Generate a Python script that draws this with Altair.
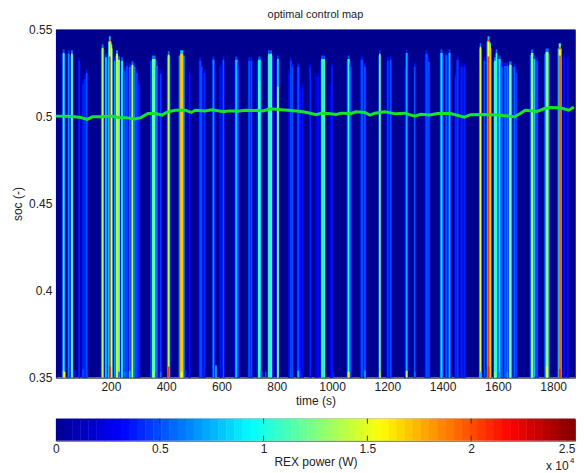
import altair as alt
import pandas as pd

FONT = "Liberation Sans"
# spikes of the control map: time (s), top soc, body power (W), tip power (W), width (s)
spike_t = [29,47,59,85,99,105,112,170,182,196,202,214,222,229,240,250,258,268,278,286,294,301,355,366,380,409,456,485,523,528,538,571,596,607,654,661,700,708,737,772,779,804,845,851,856,878,885,894,921,942,949,964,971,995,1000,1060,1067,1108,1119,1173,1202,1212,1266,1270,1299,1342,1350,1396,1413,1425,1447,1454,1469,1479,1537,1551,1566,1572,1590,1595,1606,1615,1626,1634,1645,1660,1667,1724,1732,1742,1778,1824,1839,1853]
spike_top = [.5385,.538,.538,.534,.5208,.5236,.527,.5414,.536,.546,.5414,.534,.538,.5345,.534,.528,.531,.5305,.5317,.5305,.527,.5208,.535,.531,.5265,.5375,.538,.527,.534,.5305,.527,.5345,.5305,.5345,.5345,.531,.534,.534,.5345,.538,.538,.535,.527,.534,.5305,.5305,.517,.519,.5305,.525,.525,.535,.535,.519,.5305,.535,.5305,.5345,.5305,.538,.534,.5345,.5305,.5385,.5305,.538,.5334,.5385,.5374,.5385,.525,.5345,.5305,.5305,.542,.534,.546,.542,.534,.5385,.535,.5305,.531,.531,.5317,.5305,.527,.5385,.535,.534,.539,.542,.536,.536]
spike_val = [10500,6500,12000,4000,4000,4000,5000,14000,9000,20500,15500,7000,15000,12500,10000,5000,5000,6000,14000,6000,5000,4000,11500,6000,4500,14000,17000,3500,5000,5000,4000,7000,3500,5500,8000,4000,5000,5000,9500,11000,10500,8500,3500,5000,5000,5000,3500,3500,4000,3000,3500,10500,11000,3000,4000,10000,5000,5000,5000,13500,4500,5000,3500,7500,5000,5000,5000,9000,5500,8000,4000,4500,4000,4000,15000,5000,20500,17000,11000,10500,9000,5000,5500,6000,12500,5500,4500,13000,8000,5000,12500,19500,3500,3500]
spike_tip = [5000,4000,6000,3000,3000,3000,3500,6000,4500,8000,12000,4000,7000,6000,5000,3500,3500,4000,6000,4000,3500,3000,6000,4000,3000,6000,8000,2500,3500,3500,3000,4000,2500,3500,4500,3000,3500,3500,5000,5000,5000,4500,2500,3500,3500,3500,2500,2500,3000,2500,2500,5000,5000,2500,3000,5000,3500,3500,3500,4000,3000,3500,2500,3500,3500,3500,3500,5000,3500,4500,3000,3000,3000,3000,6000,3500,8000,11000,6000,6000,5000,3500,3500,4000,6000,3500,3000,5500,4500,3500,6000,11000,2500,2500]
spike_w = [6,6,6,5,5,5,6,6,5,6,5,5,6,6,6,6,6,6,6,5,5,6,12,6,6,6,10,5,6,5,6,6,5,5,8,5,6,6,9,6,7,6,5,5,5,7,4,4,5,4,5,6,6,4,4,7,6,8,6,5,6,6,5,6,5,8,6,7,5,6,5,7,6,6,5,5,6,5,7,5,7,6,6,6,8,6,6,8,6,6,10,7,5,5]

# stretches of a spike whose power differs from the body
seg_t = [196,1566,1824,737,804,1724]
seg_w = [6,6,7,6,6,6]
seg_top = [.543,.543,.5385,.520,.517,.515]
seg_bot = [.5345,.5345,.535,.35,.35,.35]
seg_val = [15000,15500,15000,11000,12500,13500]

# low-soc feet of the spikes
foot_t = [29,33,70,99,112,196,229,250,268,355,362,380,409,456,470,580,745,760,850,878,1005,1060,1119,1173,1270,1299,1396,1537,1566,1590,1606,1634,1724,1778,1824]
foot_w = [6,5,6,5,5,6,6,6,6,6,5,5,6,8,5,5,6,5,5,6,5,7,6,5,6,5,5,5,6,6,5,5,6,6,6]
foot_top = [.354,.3535,.3545,.355,.3545,.3565,.3535,.3535,.354,.354,.3535,.3535,.3565,.3535,.3545,.357,.354,.3535,.3545,.354,.3535,.3535,.354,.353,.354,.3535,.3535,.3535,.3565,.3535,.3535,.3535,.354,.3565,.355]
foot_val = [13000,16000,3500,5000,5000,21000,6000,6000,8000,14000,6000,6000,20500,15000,4000,8000,5000,5000,5000,8000,4000,16000,7000,16500,14000,6000,8000,8000,21000,13000,7000,7000,13000,15500,21000]

# optimal soc trajectory
line_t = [1,60,91,115,133,168,199,229,259,283,307,334,361,385,403,433,469,491,505,541,565,608,626,667,685,715,733,751,775,805,852,888,914,943,961,986,1015,1033,1069,1087,1119,1137,1155,1191,1231,1263,1299,1321,1353,1382,1429,1479,1501,1551,1598,1660,1681,1699,1742,1767,1789,1825,1857,1875]
line_soc = [.5002,.5000,.4994,.4983,.4998,.4998,.5002,.4994,.4992,.4985,.4992,.5017,.5017,.5008,.5025,.5036,.5036,.5023,.5036,.5032,.5038,.5027,.5032,.5031,.5036,.5034,.5036,.5032,.5044,.5040,.5034,.5029,.5021,.5010,.5019,.5017,.5012,.5019,.5017,.5027,.5023,.5008,.5019,.5027,.5015,.5019,.5002,.5013,.5008,.5017,.5017,.4996,.5010,.5011,.5008,.4998,.5017,.5036,.5029,.5044,.5052,.5050,.5036,.5055]

x_ticks = [200,400,600,800,1000,1200,1400,1600,1800]
y_ticks = [.35,.4,.45,.5,.55]
bar_ticks = [0,5000,10000,15000,20000,25000]
inner_ticks = [5000,10000,15000,20000]
t_min, t_max = 1, 1879
soc_min, soc_max = .35, .55
p_max = 25000
jet_domain = [0,3125,9375,15625,21875,25000]
jet_range = ["#00008f","#0000ff","#00ffff","#ffff00","#ff0000","#800000"]
n_bands = 64
widen = 1.1
halo = 2.2
halo_level = .4

rows = [dict(a=t_min, b=t_max, lo=soc_min, hi=soc_max, v=0)]
for t,w,top,val in zip(spike_t,spike_w,spike_top,spike_val):
    w = w*halo
    rows.append(dict(a=t-w/2,b=t+w/2,lo=soc_min,hi=top-.003,v=val*halo_level))
for t,w,top,val,tip in zip(spike_t,spike_w,spike_top,spike_val,spike_tip):
    w = w*widen
    rows.append(dict(a=t-w/2,b=t+w/2,lo=top-.004,hi=top,v=tip))
    rows.append(dict(a=t-w/2,b=t+w/2,lo=soc_min,hi=top-.002,v=val))
for t,w,top,bot,val in zip(seg_t,seg_w,seg_top,seg_bot,seg_val):
    w = w*widen
    rows.append(dict(a=t-w/2,b=t+w/2,lo=bot,hi=top,v=val))
for t,w,top,val in zip(foot_t,foot_w,foot_top,foot_val):
    w = w*widen
    rows.append(dict(a=t-w/2,b=t+w/2,lo=soc_min,hi=top,v=val))
cells = pd.DataFrame(rows)
cells["i"] = range(len(cells))

color = alt.Color("v:Q", legend=None,
                  scale=alt.Scale(domain=jet_domain, range=jet_range, interpolate="rgb", clamp=True))
xs = alt.Scale(domain=[t_min,t_max], nice=False, zero=False)
ys = alt.Scale(domain=[soc_min,soc_max], nice=False, zero=False)

map_rect = alt.Chart(cells).mark_rect(clip=True, strokeWidth=0).encode(
    x=alt.X("a:Q", scale=xs, title="time (s)",
            axis=alt.Axis(values=x_ticks, ticks=False, domain=False, grid=False, labelPadding=4,
                          titlePadding=3, format="d", labelOverlap=False)),
    x2="b:Q",
    y=alt.Y("lo:Q", scale=ys, title="soc (-)",
            axis=alt.Axis(values=y_ticks, ticks=False, domain=False, grid=False, labelPadding=4,
                          titlePadding=4, format=".2~f", labelOverlap=False)),
    y2="hi:Q",
    color=color,
    order="i:Q",
)
traj = alt.Chart(pd.DataFrame(dict(t=line_t, soc=line_soc))).mark_line(
    color="#14e628", strokeWidth=3, clip=True).encode(
    x=alt.X("t:Q", scale=xs), y=alt.Y("soc:Q", scale=ys))
top = alt.layer(map_rect, traj).properties(
    width=520, height=349,
    title=alt.TitleParams("optimal control map", fontSize=11, fontWeight="normal", font=FONT,
                          color="#222222", offset=3, anchor="middle"))

band_w = p_max/n_bands
bands = pd.DataFrame(dict(a=[i*band_w for i in range(n_bands)]))
bands["b"] = bands["a"] + band_w*1.05
bands["v"] = bands["a"] + band_w/2
bx = alt.Scale(domain=[0,p_max], nice=False, zero=False, clamp=True)
bar_rect = alt.Chart(bands).mark_rect(strokeWidth=0).encode(
    x=alt.X("a:Q", scale=bx, title="REX power (W)",
            axis=alt.Axis(values=bar_ticks, ticks=False, domain=False, grid=False, labelPadding=3,
                          titlePadding=2, labelExpr="datum.value/10000", labelOverlap=False, labelFlush=False,
                          labelAlign=alt.expr("datum.value==25000?'right':'center'"))),
    x2="b:Q",
    color=color,
)
tick_top = alt.Chart(pd.DataFrame(dict(p=inner_ticks))).mark_rule(color="#333333", strokeWidth=1).encode(
    x=alt.X("p:Q", scale=bx), y=alt.value(0), y2=alt.value(5))
tick_bot = alt.Chart(pd.DataFrame(dict(p=inner_ticks))).mark_rule(color="#333333", strokeWidth=1).encode(
    x=alt.X("p:Q", scale=bx), y=alt.value(17), y2=alt.value(22))
exp_a = alt.Chart(pd.DataFrame(dict(s=["x 10"]))).mark_text(font=FONT, fontSize=12, color="#222222", align="left", baseline="middle").encode(
    text="s:N", x=alt.value(491), y=alt.value(47))
exp_b = alt.Chart(pd.DataFrame(dict(s=["4"]))).mark_text(font=FONT, fontSize=8, color="#222222", align="left", baseline="middle").encode(
    text="s:N", x=alt.value(515), y=alt.value(42))
bottom = alt.layer(bar_rect, tick_top, tick_bot, exp_a, exp_b).properties(width=520, height=22)

chart = alt.vconcat(top, bottom, spacing=41, bounds="flush").resolve_scale(x="independent").properties(
    padding=dict(left=3, top=0, right=0, bottom=6), background="white"
).configure_view(stroke="#444444", strokeWidth=1).configure_axis(
    labelFont=FONT, titleFont=FONT, labelFontSize=12, titleFontSize=12,
    labelColor="#222222", titleColor="#222222", titleFontWeight="normal"
)

chart.save("out.html", embed_options={"renderer": "svg", "actions": False})
